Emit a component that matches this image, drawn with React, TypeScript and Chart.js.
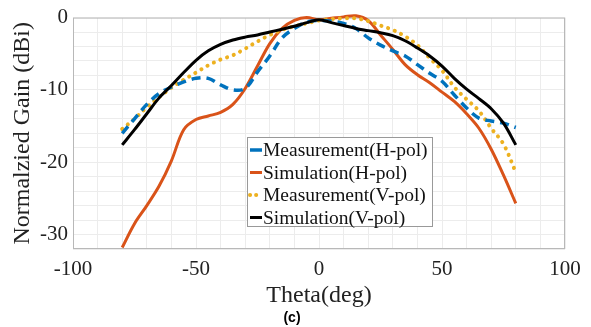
import React, { useEffect, useRef } from "react";
import { Chart, registerables } from "chart.js";

Chart.register(...registerables);

const angles = [-80, -75, -70, -65, -60, -55, -50, -45, -40, -35, -30, -25, -20, -15, -10, -5, 0, 5, 10, 15, 20, 25, 30, 35, 40, 45, 50, 55, 60, 65, 70, 75, 80];

const measH = [-16.0, -14.0, -12.0, -10.5, -9.6, -8.9, -8.4, -8.4, -9.3, -10.0, -9.8, -7.5, -5.3, -2.8, -1.5, -0.6, -0.4, -0.5, -0.8, -1.5, -2.8, -3.8, -4.6, -5.3, -6.5, -7.7, -8.8, -10.7, -12.5, -13.9, -14.3, -14.6, -15.2];
const simH = [-31.8, -28.5, -26.0, -23.3, -19.8, -15.5, -14.1, -13.6, -13.1, -12.0, -9.8, -6.7, -3.6, -1.5, -0.4, 0.0, -0.3, -0.1, 0.1, 0.25, -0.4, -2.4, -4.4, -6.5, -7.9, -9.0, -10.3, -11.6, -13.3, -15.3, -18.2, -21.8, -25.7];
const measV = [-15.4, -14.0, -12.4, -11.0, -9.7, -8.6, -7.6, -6.6, -5.8, -5.2, -4.3, -3.3, -2.4, -1.7, -1.2, -0.8, -0.4, -0.2, -0.1, -0.1, -0.5, -1.1, -1.7, -2.6, -3.8, -5.6, -7.3, -9.6, -11.3, -12.9, -15.3, -17.5, -21.4];
const simV = [-17.6, -15.5, -13.3, -11.1, -9.4, -7.6, -5.9, -4.6, -3.7, -3.1, -2.7, -2.4, -2.0, -1.6, -1.2, -0.7, -0.3, -0.7, -1.1, -1.5, -1.8, -2.1, -2.5, -3.2, -4.2, -5.3, -6.7, -8.4, -9.9, -11.2, -12.6, -14.6, -17.6];

const seriesNames = ["Measurement(H-pol)", "Simulation(H-pol)", "Measurement(V-pol)", "Simulation(V-pol)"];
const seriesColors = ["#0072BD", "#D95319", "#EDB120", "#000000"];

const xTitle = "Theta(deg)";
const yTitle = "Normalzied Gain (dBi)";
const caption = "(c)";

const SERIF = "'Liberation Serif', 'Times New Roman', serif";

function pts(vals: number[]) {
  return angles.map((a, i) => ({ x: a, y: vals[i] }));
}

export default function App() {
  const ref = useRef<HTMLCanvasElement | null>(null);
  useEffect(() => {
    if (!ref.current) return;
    const dashes: number[][] = [[9, 6], [], [0.1, 7], []];
    const widths = [3.5, 3, 4, 3];
    const orders = [1, 3, 2, 0];
    const all = [measH, simH, measV, simV];

    const overlay = {
      id: "overlay",
      beforeDatasetsDraw(chart: any) {
        const { ctx, chartArea } = chart;
        ctx.save();
        ctx.strokeStyle = "#b8b8b8";
        ctx.lineWidth = 1;
        ctx.strokeRect(chartArea.left + 0.5, chartArea.top + 0.5, chartArea.right - chartArea.left - 1, chartArea.bottom - chartArea.top - 1);
        ctx.restore();
      },
      afterDraw(chart: any) {
        const { ctx, chartArea } = chart;
        ctx.save();
        ctx.fillStyle = "#222";
        ctx.font = `24px ${SERIF}`;
        ctx.textAlign = "center";
        ctx.textBaseline = "middle";
        ctx.fillText(xTitle, (chartArea.left + chartArea.right) / 2, 296);
        ctx.save();
        ctx.translate(23, (chartArea.top + chartArea.bottom) / 2);
        ctx.rotate(-Math.PI / 2);
        ctx.fillText(yTitle, 0, 0);
        ctx.restore();
        ctx.font = "bold 14px 'Liberation Sans', Arial, sans-serif";
        ctx.fillStyle = "#000";
        ctx.fillText(caption, 292, 318);

        const lx = 247, ly = 137, lw = 185, lh = 89;
        ctx.fillStyle = "#fff";
        ctx.fillRect(lx, ly, lw, lh);
        ctx.strokeStyle = "#999";
        ctx.lineWidth = 1;
        ctx.strokeRect(lx + 0.5, ly + 0.5, lw, lh);
        ctx.font = `19.5px ${SERIF}`;
        ctx.textAlign = "left";
        ctx.textBaseline = "middle";
        for (let i = 0; i < 4; i++) {
          const cy = 150 + i * 22.5;
          ctx.save();
          ctx.strokeStyle = seriesColors[i];
          ctx.lineWidth = widths[i];
          if (i === 2) {
            ctx.lineCap = "round";
            ctx.setLineDash([0.1, 6]);
          } else {
            ctx.lineCap = "butt";
            ctx.setLineDash([]);
          }
          ctx.beginPath();
          ctx.moveTo(250, cy);
          ctx.lineTo(262, cy);
          ctx.stroke();
          ctx.restore();
          ctx.fillStyle = "#111";
          ctx.fillText(seriesNames[i], 263, cy + 1);
        }
        ctx.restore();
      },
    };

    const chart = new Chart(ref.current, {
      type: "line",
      data: {
        datasets: all.map((vals, i) => ({
          label: seriesNames[i],
          data: pts(vals),
          borderColor: seriesColors[i],
          backgroundColor: seriesColors[i],
          borderWidth: widths[i],
          borderDash: dashes[i],
          borderCapStyle: i === 2 ? "round" : "butt",
          pointRadius: 0,
          tension: 0.35,
          fill: false,
          clip: 4,
          order: orders[i],
        })),
      },
      options: {
        responsive: false,
        animation: false,
        layout: { padding: { top: 15, right: 26, left: 0, bottom: 0 } },
        plugins: { legend: { display: false }, tooltip: { enabled: false } },
        scales: {
          x: {
            type: "linear",
            min: -100,
            max: 100,
            afterFit: (s: any) => { s.height = 78; },
            grid: { color: "#ececec", drawTicks: false },
            border: { display: false },
            ticks: {
              stepSize: 10,
              autoSkip: false,
              maxRotation: 0,
              padding: 8,
              color: "#222",
              font: { family: SERIF, size: 21 },
              callback: (v: any) => (Number(v) % 50 === 0 ? String(v) : ""),
            },
          },
          y: {
            type: "linear",
            min: -32,
            max: 0,
            afterFit: (s: any) => { s.width = 73; },
            grid: { color: "#ececec", drawTicks: false },
            border: { display: false },
            ticks: {
              stepSize: 2,
              autoSkip: false,
              padding: 5,
              color: "#222",
              font: { family: SERIF, size: 21 },
              callback: (v: any) => (Number(v) % 10 === 0 ? String(v) : ""),
            },
          },
        },
      },
      plugins: [overlay],
    } as any);
    return () => chart.destroy();
  }, []);

  return (
    <div style={{ position: "absolute", left: 0, top: 0, width: 591, height: 327, background: "#fff" }}>
      <canvas ref={ref} width={591} height={327} style={{ display: "block" }} />
    </div>
  );
}
